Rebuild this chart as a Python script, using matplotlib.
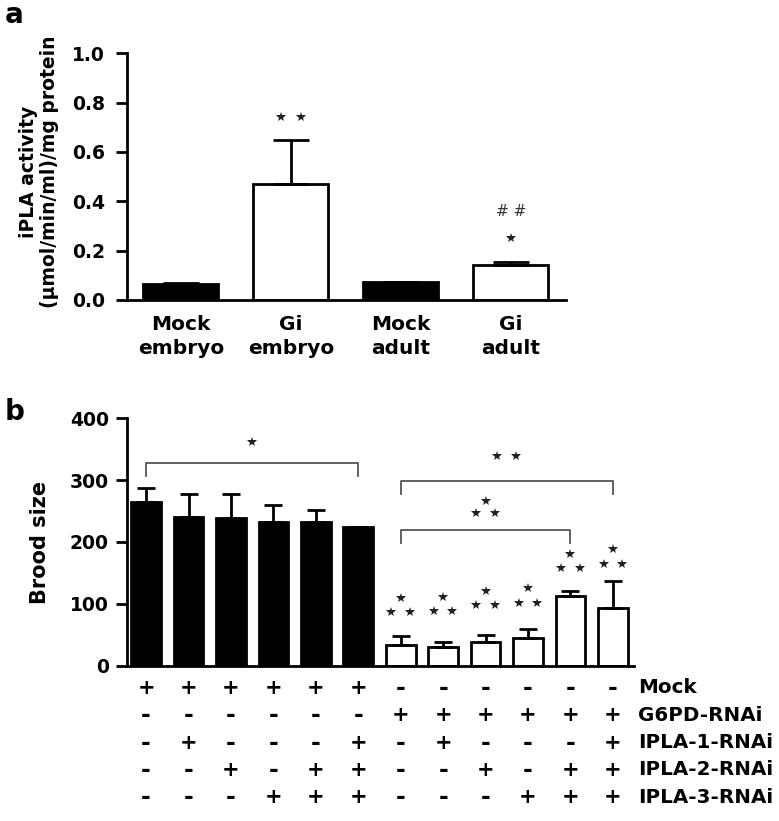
import matplotlib
matplotlib.use("Agg")
import matplotlib.pyplot as plt
import matplotlib.transforms as mtransforms
import numpy as np

plt.rcParams['font.family'] = ['DejaVu Sans']
plt.rcParams['font.weight'] = 'bold'
plt.rcParams['axes.labelweight'] = 'bold'

# ---------------- data: panel a ----------------
cats_a = ['Mock\nembryo', 'Gi\nembryo', 'Mock\nadult', 'Gi\nadult']
vals_a = [0.064, 0.47, 0.073, 0.141]
errs_a = [0.003, 0.18, 0.0, 0.014]
fills_a = ['black', 'white', 'black', 'white']
yticks_a = [0.0, 0.2, 0.4, 0.6, 0.8, 1.0]

# ---------------- data: panel b ----------------
vals_b = [264, 240, 238, 232, 232, 224, 34, 30, 38, 44, 112, 93]
errs_b = [23, 38, 39, 28, 20, 0, 14, 9, 11, 15, 8, 44]
fills_b = ['black'] * 6 + ['white'] * 6
yticks_b = [0, 100, 200, 300, 400]
star_base_b = [87, 88, 98, 102, 158, 165]   # heights of the 3-star marks above white bars
row_labels = ['Mock', 'G6PD-RNAi', 'IPLA-1-RNAi', 'IPLA-2-RNAi', 'IPLA-3-RNAi']
signs = [
    '++++++------',
    '------++++++',
    '-+---+-+---+',
    '--+-++--+-++',
    '---+++---+++',
]

fig = plt.figure(figsize=(7.79, 8.21), dpi=100)
axA = fig.add_axes([0.163, 0.6346, 0.5634, 0.3005])
axB = fig.add_axes([0.163, 0.1892, 0.651, 0.3013])

LW = 2.0
STAR = dict(marker='*', ls='none', color='#222222', ms=7, mew=0)

def style(ax, pad):
    for s in ['top', 'right']:
        ax.spines[s].set_visible(False)
    for s in ['left', 'bottom']:
        ax.spines[s].set_linewidth(LW)
    ax.tick_params(axis='y', direction='out', length=8, width=LW, labelsize=13.5, pad=pad)
    ax.tick_params(axis='x', length=0)

# ---------------- panel a ----------------
xa = np.arange(len(vals_a))
axA.bar(xa, vals_a, width=0.68, color=fills_a, edgecolor='black', linewidth=LW, zorder=2)
axA.errorbar(xa, vals_a, yerr=[np.zeros(len(errs_a)), errs_a], fmt='none', ecolor='black',
             elinewidth=LW, capsize=13, capthick=LW, zorder=3)
axA.set_xlim(-0.49, 3.5)
axA.set_ylim(0, 1.0)
axA.set_yticks(yticks_a)
axA.set_yticklabels([f'{v:.1f}' for v in yticks_a])
axA.set_xticks(xa)
axA.set_xticklabels(cats_a, fontsize=14.5, linespacing=1.3)
style(axA, 8)
axA.tick_params(axis='x', pad=11)
axA.set_ylabel('iPLA activity\n(µmol/min/ml)/mg protein', fontsize=13.5, linespacing=1.1)
axA.yaxis.set_label_coords(-0.155, 0.52)
axA.plot([0.91, 1.09], [0.74, 0.74], **STAR)
axA.plot([3], [0.25], **STAR)
axA.text(3, 0.36, '# #', ha='center', va='center', fontsize=11, color='#333333', fontweight='normal')

# ---------------- panel b ----------------
xb = np.arange(len(vals_b))
axB.bar(xb, vals_b, width=0.7, color=fills_b, edgecolor='black', linewidth=LW, zorder=2)
axB.errorbar(xb, vals_b, yerr=[np.zeros(len(errs_b)), errs_b], fmt='none', ecolor='black',
             elinewidth=LW, capsize=6.5, capthick=LW, zorder=3)
axB.set_xlim(-0.45, 11.5)
axB.set_ylim(0, 400)
axB.set_yticks(yticks_b)
axB.set_xticks([])
style(axB, 5)
axB.set_ylabel('Brood size', fontsize=15)
axB.yaxis.set_label_coords(-0.152, 0.5)

def bracket(ax, x0, x1, y, leg):
    ax.plot([x0, x0, x1, x1], [y - leg, y, y, y - leg], color='#555555', lw=1.3, zorder=1)

bracket(axB, 0, 5, 328, 21)
bracket(axB, 6, 11, 299, 21)
bracket(axB, 6, 10, 220, 21)
axB.plot([2.5], [362], **STAR)
axB.plot([8.28, 8.72], [339, 339], **STAR)
axB.plot([8.0, 7.77, 8.23], [267, 247, 247], **STAR)
for i, base in enumerate(star_base_b):
    xc = 6 + i
    axB.plot([xc, xc - 0.22, xc + 0.22], [base + 23, base, base], **STAR)

# sign table below panel b
trans = mtransforms.blended_transform_factory(axB.transData, axB.transAxes)
row_y0 = -0.09
row_step = 0.1105
for r, (lab, row) in enumerate(zip(row_labels, signs)):
    y = row_y0 - r * row_step
    for i, ch in enumerate(row):
        axB.text(i, y, ch, transform=trans, ha='center', va='center',
                 fontsize=15 if ch == '+' else 17, clip_on=False)
    axB.text(11.6, y, lab, transform=trans, ha='left', va='center', fontsize=14.3, clip_on=False)

fig.text(0.006, 0.999, 'a', fontsize=20, va='top', ha='left')
fig.text(0.006, 1 - 398 / 821, 'b', fontsize=20, va='top', ha='left')

fig.savefig('out.png', dpi=100)
